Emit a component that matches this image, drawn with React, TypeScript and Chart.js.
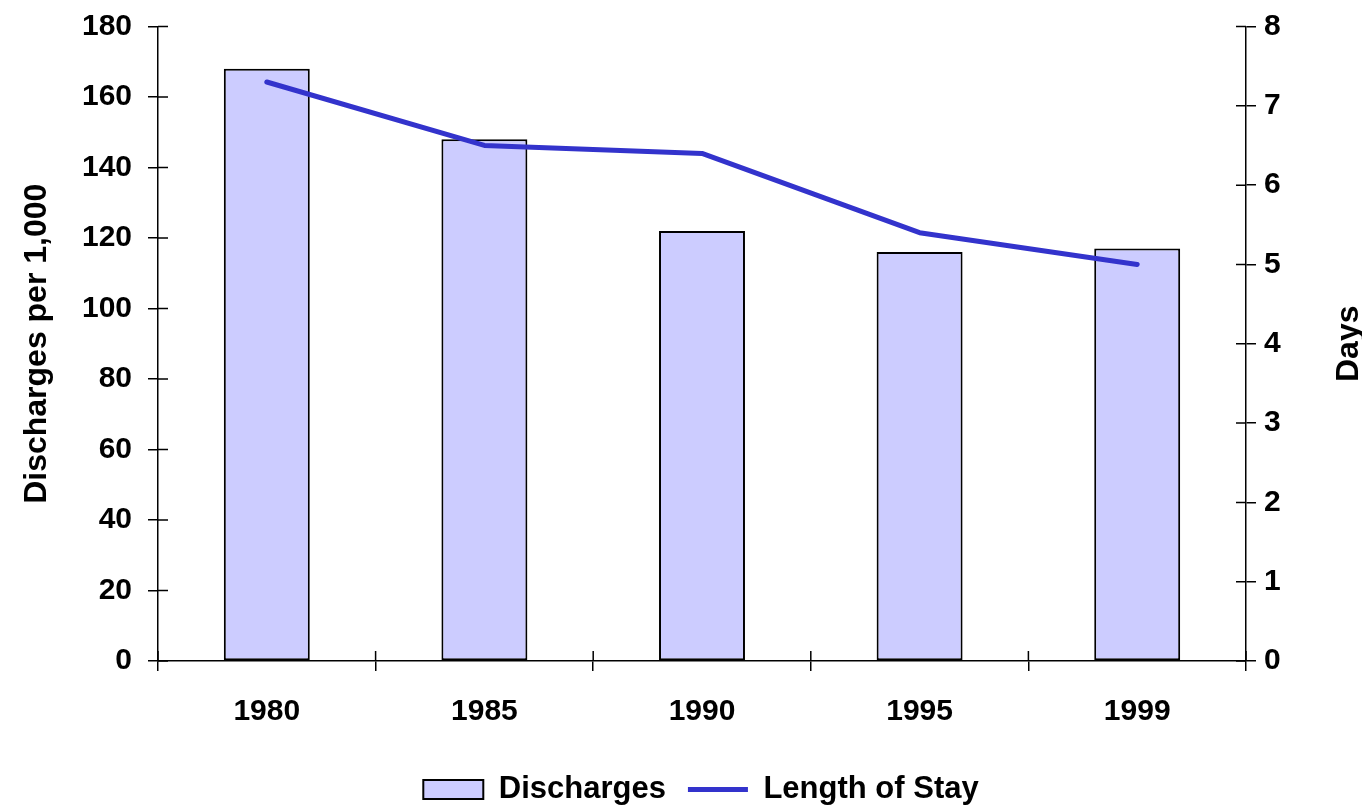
import React, { useEffect, useRef } from 'react';
import { Chart, registerables } from 'chart.js';

Chart.register(...registerables);

const years = ['1980', '1985', '1990', '1995', '1999'];
const discharges = [168, 148, 122, 116, 117];
const lengthOfStay = [7.3, 6.5, 6.4, 5.4, 5.0];
const leftAxisTitle = 'Discharges per 1,000';
const rightAxisTitle = 'Days';

const FONT = "'Liberation Sans', Arial, Helvetica, sans-serif";
const TICK_LEN = 10;
const CANVAS_H = 815;
const LEGEND_SHIFT = 20;

const crossTicks = {
  id: 'crossTicks',
  afterLayout(chart: any) {
    const lg = chart.legend;
    if (lg) {
      lg.left += LEGEND_SHIFT;
      lg.right += LEGEND_SHIFT;
    }
  },
  afterDraw(chart: any) {
    const { ctx, chartArea, scales } = chart;
    ctx.save();
    ctx.strokeStyle = '#000';
    ctx.lineWidth = 1.5;
    ctx.beginPath();
    const x = scales.x;
    const n = x.ticks.length;
    for (let i = 0; i <= n; i++) {
      const px = x.left + (i * (x.right - x.left)) / n;
      ctx.moveTo(px, chartArea.bottom);
      ctx.lineTo(px, chartArea.bottom - TICK_LEN);
    }
    const y = scales.y;
    y.ticks.forEach((_t: any, i: number) => {
      const py = y.getPixelForTick(i);
      ctx.moveTo(chartArea.left, py);
      ctx.lineTo(chartArea.left + TICK_LEN, py);
    });
    const y1 = scales.y1;
    y1.ticks.forEach((_t: any, i: number) => {
      const py = y1.getPixelForTick(i);
      ctx.moveTo(chartArea.right, py);
      ctx.lineTo(chartArea.right - TICK_LEN, py);
    });
    ctx.stroke();
    ctx.fillStyle = '#000';
    ctx.font = `bold 32px ${FONT}`;
    ctx.textAlign = 'center';
    ctx.textBaseline = 'middle';
    ctx.translate(1349, (chartArea.top + chartArea.bottom) / 2);
    ctx.rotate(-Math.PI / 2);
    ctx.fillText(rightAxisTitle, 0, 0);
    ctx.restore();
  },
};

export default function App() {
  const ref = useRef<HTMLCanvasElement | null>(null);

  useEffect(() => {
    document.body.style.margin = '0';
    const canvas = ref.current;
    if (!canvas) return;
    const xTickFont = { family: FONT, size: 30, weight: 'bold' as const };
    const yTickFont = { family: FONT, size: 30, weight: 'bold' as const, lineHeight: 0.7 };
    const axisGrid = {
      display: true,
      drawOnChartArea: false,
      drawTicks: true,
      tickLength: TICK_LEN,
      color: '#000',
      lineWidth: 1.5,
    };
    const chart = new Chart(canvas, {
      type: 'bar',
      data: {
        labels: years,
        datasets: [
          {
            type: 'bar',
            label: 'Discharges',
            data: discharges,
            backgroundColor: '#CCCCFF',
            borderColor: '#000000',
            borderWidth: 2,
            borderSkipped: false,
            categoryPercentage: 1,
            barPercentage: 0.395,
            yAxisID: 'y',
            pointStyle: 'rect',
            order: 2,
          } as any,
          {
            type: 'line',
            label: 'Length of Stay',
            data: lengthOfStay,
            borderColor: '#3333CC',
            backgroundColor: '#3333CC',
            borderWidth: 5,
            borderCapStyle: 'round',
            borderJoinStyle: 'round',
            pointRadius: 0,
            pointHoverRadius: 0,
            pointStyle: 'line',
            tension: 0,
            yAxisID: 'y1',
            order: 1,
          } as any,
        ],
      },
      options: {
        animation: false,
        responsive: false,
        maintainAspectRatio: false,
        layout: { padding: { top: 22, bottom: 0, left: 0, right: 0 } },
        plugins: {
          tooltip: { enabled: false },
          legend: {
            display: true,
            position: 'bottom',
            labels: {
              usePointStyle: true,
              pointStyleWidth: 60,
              boxHeight: 19,
              padding: 22,
              color: '#000',
              sort: (a: any, b: any) => a.datasetIndex - b.datasetIndex,
              font: { family: FONT, size: 31, weight: 'bold' },
            },
          },
        },
        scales: {
          x: {
            offset: true,
            grid: { ...axisGrid, offset: true },
            border: { display: true, color: '#000', width: 1.5 },
            ticks: {
              color: '#000',
              padding: 23,
              maxRotation: 0,
              font: xTickFont,
            },
            afterFit(scale: any) {
              scale.height = 91;
            },
          },
          y: {
            position: 'left',
            min: 0,
            max: 180,
            ticks: {
              stepSize: 20,
              color: '#000',
              padding: 16,
              font: yTickFont,
            },
            grid: axisGrid,
            border: { display: true, color: '#000', width: 1.5 },
            title: {
              display: true,
              text: leftAxisTitle,
              color: '#000',
              padding: { top: 18, bottom: 0 },
              font: { family: FONT, size: 32, weight: 'bold' },
            },
            afterFit(scale: any) {
              scale.width = 158;
            },
          },
          y1: {
            position: 'right',
            min: 0,
            max: 8,
            ticks: {
              stepSize: 1,
              color: '#000',
              padding: 8,
              font: yTickFont,
            },
            grid: axisGrid,
            border: { display: true, color: '#000', width: 1.5 },
            afterFit(scale: any) {
              scale.width = 116;
            },
          },
        },
      },
      plugins: [crossTicks],
    });
    return () => chart.destroy();
  }, []);

  return (
    <div style={{ position: 'fixed', left: 0, top: 0, width: 1362, height: 805, overflow: 'hidden', background: '#fff' }}>
      <canvas ref={ref} width={1362} height={CANVAS_H} style={{ width: 1362, height: CANVAS_H, display: 'block' }} />
    </div>
  );
}
